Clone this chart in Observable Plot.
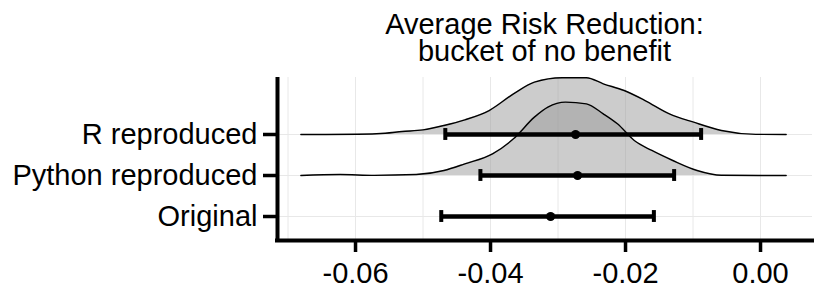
<!DOCTYPE html>
<html><head><meta charset="utf-8">
<script src="https://cdn.jsdelivr.net/npm/d3@7"></script>
<script src="https://cdn.jsdelivr.net/npm/@observablehq/plot@0.6"></script>
<style>
body{margin:0;background:#fff;font-family:"Liberation Sans",Arial,sans-serif;}
#title{width:817px;height:66px;box-sizing:border-box;padding:11px 5px 0 277px;text-align:center;font-size:29px;line-height:27px;color:#000;white-space:pre-line;overflow:visible;}
</style></head><body>
<div id="title"></div>
<div id="chart"></div>
<script>
const titleText = "Average Risk Reduction:\nbucket of no benefit";
const categories = ["Original", "Python reproduced", "R reproduced"];
const estimates = [-0.0311, -0.0271, -0.0274];
const lower = [-0.0473, -0.0415, -0.0467];
const upper = [-0.0158, -0.0128, -0.0088];

const rDensX = [-0.0681, -0.0597, -0.0556, -0.0531, -0.0500, -0.0469, -0.0438, -0.0402, -0.0366, -0.0335, -0.0294, -0.0258, -0.0233, -0.0202, -0.0171, -0.0135, -0.0099, -0.0058, -0.0007, 0.0038];
const rDensH = [0, 0.005, 0.03, 0.073, 0.114, 0.22, 0.358, 0.585, 0.99, 1.276, 1.385, 1.385, 1.236, 1.073, 0.829, 0.504, 0.30, 0.098, 0.004, 0];
const pyDensX = [-0.0681, -0.0623, -0.0572, -0.0510, -0.0469, -0.0438, -0.0397, -0.0366, -0.0335, -0.0315, -0.0289, -0.0258, -0.0233, -0.0212, -0.0187, -0.0161, -0.0130, -0.0094, -0.0058, 0.0038];
const pyDensH = [0, 0.024, 0.004, 0.024, 0.122, 0.285, 0.528, 0.894, 1.423, 1.667, 1.789, 1.748, 1.504, 1.26, 0.854, 0.61, 0.366, 0.122, 0.005, 0];

const xTicks = [-0.06, -0.04, -0.02, 0];
const xGrid = [-0.07, -0.06, -0.05, -0.04, -0.03, -0.02, -0.01, 0];
const xDomain = [-0.07156, 0.0077];
const yDomain = [-0.585, 3.39];

document.getElementById("title").textContent = titleText;

const bars = categories.map((c, i) => ({cat: c, pos: i, est: estimates[i], lo: lower[i], hi: upper[i]}));
const rRows = rDensX.map((x, i) => ({x, base: 2, top: 2 + rDensH[i]}));
const pyRows = pyDensX.map((x, i) => ({x, base: 1, top: 1 + pyDensH[i]}));

const plot = Plot.plot({
  width: 817,
  height: 231,
  marginTop: 11,
  marginBottom: 57,
  marginLeft: 277,
  marginRight: 5,
  style: {fontFamily: "Liberation Sans, Arial, sans-serif", fontSize: "29px", color: "black", background: "white"},
  x: {domain: xDomain},
  y: {domain: yDomain},
  marks: [
    Plot.gridX({ticks: xGrid, stroke: "#e8e8e8", strokeOpacity: 1, strokeWidth: 1}),
    Plot.gridY({ticks: [0, 1, 2], stroke: "#e8e8e8", strokeOpacity: 1, strokeWidth: 1}),
    Plot.areaY(rRows, {x: "x", y1: "base", y2: "top", fill: "#999", fillOpacity: 0.5, curve: "monotone-x"}),
    Plot.line(rRows, {x: "x", y: "top", stroke: "black", strokeWidth: 1.4, curve: "monotone-x"}),
    Plot.areaY(pyRows, {x: "x", y1: "base", y2: "top", fill: "#999", fillOpacity: 0.5, curve: "monotone-x"}),
    Plot.line(pyRows, {x: "x", y: "top", stroke: "black", strokeWidth: 1.4, curve: "monotone-x"}),
    Plot.ruleY(bars, {x1: "lo", x2: "hi", y: "pos", stroke: "black", strokeWidth: 4.5}),
    Plot.ruleX(bars, {x: "lo", y1: d => d.pos - 0.145, y2: d => d.pos + 0.145, stroke: "black", strokeWidth: 4}),
    Plot.ruleX(bars, {x: "hi", y1: d => d.pos - 0.145, y2: d => d.pos + 0.145, stroke: "black", strokeWidth: 4}),
    Plot.dot(bars, {x: "est", y: "pos", r: 4.5, fill: "black"}),
    Plot.ruleX([xDomain[0]], {stroke: "black", strokeWidth: 4}),
    Plot.ruleY([yDomain[0]], {stroke: "black", strokeWidth: 4, strokeLinecap: "square"}),
    Plot.axisX({ticks: xTicks, tickFormat: d => d.toFixed(2), tickSize: 12, tickPadding: 10, fontSize: 29, strokeWidth: 3.5, label: null}),
    Plot.axisY({ticks: [0, 1, 2], tickFormat: i => categories[i], tickSize: 14, tickPadding: 6, fontSize: 29, strokeWidth: 3.5, label: null})
  ]
});
document.getElementById("chart").appendChild(plot);
</script>
</body></html>
